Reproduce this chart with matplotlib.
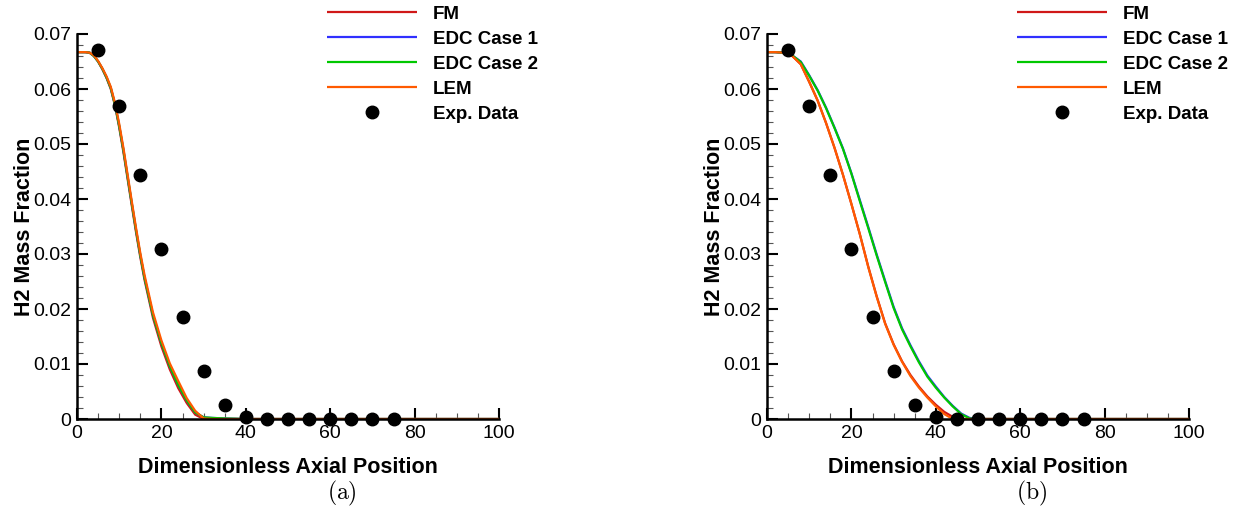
import matplotlib
matplotlib.use("Agg")
import matplotlib.pyplot as plt
from matplotlib.ticker import MultipleLocator

plt.rcParams['font.family'] = ['Liberation Sans', 'DejaVu Sans']
plt.rcParams['mathtext.fontset'] = 'cm'

# ==============================
# Data
# ==============================
exp_x = [5, 10, 15, 20, 25, 30, 35, 40, 45, 50, 55, 60, 65, 70, 75]
exp_y = [0.0671, 0.0569, 0.0444, 0.0310, 0.0185, 0.0087, 0.0025, 0.0004,
         0.0, 0.0, 0.0, 0.0, 0.0, 0.0, 0.0]

# panel (a)
xa = [0, 2, 3, 4, 5, 6, 7, 8, 9, 10, 11, 12, 13, 14, 15, 16, 18, 20, 22, 24,
      26, 28, 30, 32, 35, 40, 100]
fm_a = [0.0667, 0.0667, 0.0666, 0.0660, 0.0650, 0.0636, 0.0620, 0.0600, 0.0570,
        0.0530, 0.0485, 0.0436, 0.0387, 0.0339, 0.0294, 0.0253, 0.0184, 0.0132,
        0.0090, 0.0056, 0.0029, 0.0008, 0.0, 0.0, 0.0, 0.0, 0.0]
edc1_a = [0.0667, 0.0667, 0.0666, 0.0660, 0.0650, 0.0637, 0.0621, 0.0602, 0.0572,
          0.0533, 0.0489, 0.0440, 0.0391, 0.0343, 0.0298, 0.0257, 0.0189, 0.0138,
          0.0096, 0.0062, 0.0034, 0.0012, 0.0003, 0.0002, 0.0001, 0.0, 0.0]
edc2_a = [0.0667, 0.0667, 0.0666, 0.0660, 0.0650, 0.0637, 0.0621, 0.0602, 0.0572,
          0.0533, 0.0489, 0.0440, 0.0391, 0.0343, 0.0298, 0.0257, 0.0189, 0.0138,
          0.0096, 0.0062, 0.0034, 0.0012, 0.0003, 0.0002, 0.0001, 0.0, 0.0]
lem_a = [0.0667, 0.0667, 0.0666, 0.0661, 0.0651, 0.0638, 0.0623, 0.0604, 0.0575,
         0.0537, 0.0493, 0.0444, 0.0395, 0.0347, 0.0302, 0.0262, 0.0194, 0.0143,
         0.0101, 0.0069, 0.0038, 0.0015, 0.0001, 0.0, 0.0, 0.0, 0.0]

# panel (b)
xb = [0, 2, 4, 6, 8, 10, 12, 14, 16, 18, 20, 22, 24, 26, 28, 30, 32, 34, 36, 38,
      40, 42, 44, 46, 48, 50, 100]
fm_b = [0.0667, 0.0667, 0.0666, 0.0660, 0.0645, 0.0613, 0.0579, 0.0538, 0.0493,
        0.0444, 0.0391, 0.0336, 0.0277, 0.0223, 0.0174, 0.0136, 0.0105, 0.0080,
        0.0059, 0.0041, 0.0026, 0.0013, 0.0004, 0.0, 0.0, 0.0, 0.0]
edc1_b = [0.0667, 0.0667, 0.0666, 0.0661, 0.0650, 0.0625, 0.0598, 0.0566, 0.0530,
          0.0492, 0.0447, 0.0398, 0.0349, 0.0299, 0.0251, 0.0204, 0.0165, 0.0134,
          0.0105, 0.0079, 0.0059, 0.0040, 0.0024, 0.0010, 0.0002, 0.0, 0.0]
edc2_b = [0.0667, 0.0667, 0.0666, 0.0661, 0.0649, 0.0624, 0.0597, 0.0565, 0.0529,
          0.0491, 0.0446, 0.0396, 0.0347, 0.0297, 0.0249, 0.0202, 0.0163, 0.0132,
          0.0103, 0.0077, 0.0057, 0.0039, 0.0023, 0.0009, 0.0001, 0.0, 0.0]
lem_b = [0.0667, 0.0667, 0.0666, 0.0660, 0.0645, 0.0613, 0.0579, 0.0538, 0.0493,
         0.0444, 0.0391, 0.0336, 0.0276, 0.0222, 0.0173, 0.0135, 0.0104, 0.0078,
         0.0057, 0.0039, 0.0023, 0.0009, 0.0, 0.0, 0.0, 0.0, 0.0]

labels = ["FM", "EDC Case 1", "EDC Case 2", "LEM", "Exp. Data"]
colors = ["#d01818", "#3030ff", "#00c800", "#ff5a00"]
ytick_labels = ["0", "0.01", "0.02", "0.03", "0.04", "0.05", "0.06", "0.07"]

panels = [
    (xa, [fm_a, edc1_a, edc2_a, lem_a], "(a)", 77),
    (xb, [fm_b, edc1_b, edc2_b, lem_b], "(b)", 767),
]

W, H = 1242, 509
fig = plt.figure(figsize=(W / 100, H / 100), dpi=100)

for x, series, tag, left_px in panels:
    ax = fig.add_axes([left_px / W, 1 - 419 / H, 422 / W, (419 - 34) / H])
    for ys, c, lab in zip(series, colors, labels[:4]):
        ax.plot(x, ys, color=c, lw=1.6, label=lab, solid_capstyle='butt')
    ax.plot(exp_x, exp_y, 'o', color='black', ms=9, label=labels[4],
            clip_on=False, zorder=5)

    ax.set_xlim(0, 100)
    ax.set_ylim(0, 0.07)
    ax.xaxis.set_major_locator(MultipleLocator(20))
    ax.xaxis.set_minor_locator(MultipleLocator(5))
    ax.yaxis.set_minor_locator(MultipleLocator(0.002))
    ax.set_yticks([i * 0.01 for i in range(8)])
    ax.set_yticklabels(ytick_labels)

    for s in ["top", "right"]:
        ax.spines[s].set_visible(False)
    for s in ["left", "bottom"]:
        ax.spines[s].set_linewidth(1.8)
    ax.tick_params(which='major', direction='in', length=8, width=1.5,
                   labelsize=14, pad=4)
    ax.tick_params(which='minor', direction='in', length=4.5, width=0.8,
                   color='#555555')

    ax.set_xlabel("Dimensionless Axial Position", fontsize=15.5,
                  fontweight='bold', labelpad=11)
    ax.set_ylabel("H2 Mass Fraction", fontsize=15.5, fontweight='bold',
                  labelpad=-1)

    ax.legend(loc='upper left',
              bbox_to_anchor=((left_px + 250) / W, 1 - 5.5 / H),
              bbox_transform=fig.transFigure, frameon=False,
              prop={'weight': 'bold', 'size': 13.5}, handlelength=4.8,
              handletextpad=0.85, labelspacing=0.42, borderpad=0,
              borderaxespad=0, numpoints=1)

    fig.text((left_px + 265) / W, 1 - 493 / H, r"$\mathrm{" + tag + "}$",
             fontsize=17, ha='center', va='center')

fig.savefig("out.png", dpi=100)
